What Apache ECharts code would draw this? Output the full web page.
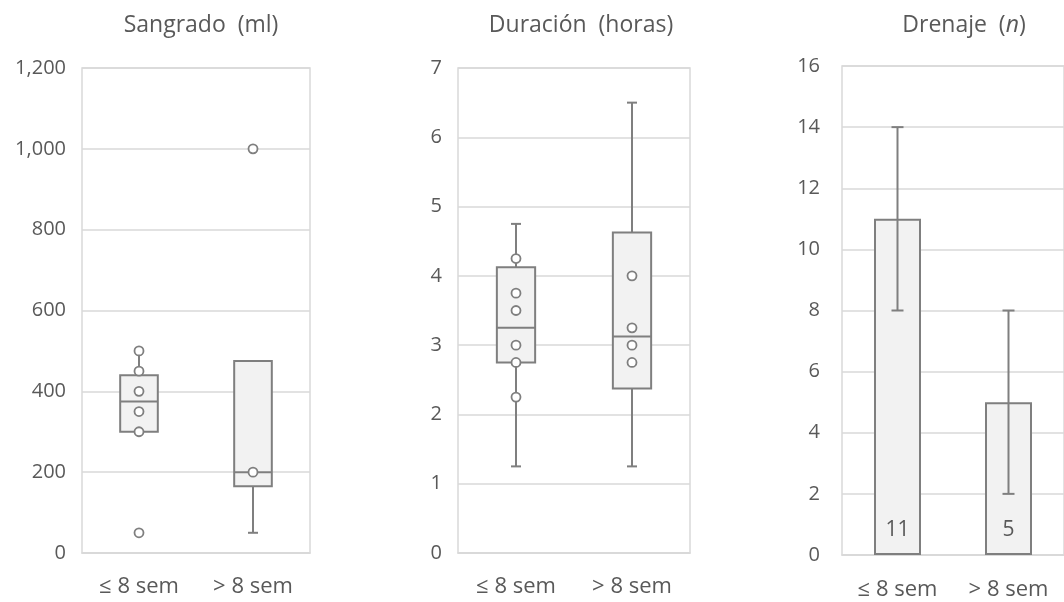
<!DOCTYPE html>
<html>
<head>
<meta charset="utf-8">
<script src="https://cdn.jsdelivr.net/npm/echarts@6/dist/echarts.min.js"></script>
<style>
  html, body { margin: 0; padding: 0; background: #ffffff; }
  #chart { width: 1064px; height: 602px; }
</style>
</head>
<body>
<div id="chart"></div>
<script>
// ---- Data ----
const categories = ['≤ 8 sem', '> 8 sem'];

// Sangrado (ml): [low whisker, Q1, median, Q3, high whisker]
const sangradoBox = [[300, 300, 375, 440, 500], [50, 165, 200, 475, 475]];
const sangradoPoints = [[50, 300, 350, 400, 450, 500], [200, 1000]];
const sangradoTicks = { min: 0, max: 1200, interval: 200 };

// Duración (horas)
const duracionBox = [[1.25, 2.75, 3.25, 4.125, 4.75], [1.25, 2.375, 3.125, 4.625, 6.5]];
const duracionPoints = [[2.25, 2.75, 3, 3.5, 3.75, 4.25], [2.75, 3, 3.25, 4]];
const duracionTicks = { min: 0, max: 7, interval: 1 };

// Drenaje (n)
const drenajeValues = [11, 5];
const drenajeLow = [8, 2];
const drenajeHigh = [14, 8];
const drenajeTicks = { min: 0, max: 16, interval: 2 };

// ---- Styles ----
const TEXT = '#595959';
const GRID = '#d9d9d9';
const STROKE = '#7f7f7f';
const FILL = '#f2f2f2';
const FONT = "'Open Sans', sans-serif";

function boxData(box) {
  return box.map((b, i) => [i].concat(b));
}
function pointData(points) {
  const out = [];
  points.forEach((arr, i) => arr.forEach(v => out.push([i, v])));
  return out;
}

function renderBox(params, api) {
  const cat = api.value(0);
  const lo = api.value(1), q1 = api.value(2), med = api.value(3), q3 = api.value(4), hi = api.value(5);
  const bandW = api.size([1, 0])[0];
  const w = bandW * 0.33;
  const cap = 10;
  const pLo = api.coord([cat, lo]);
  const pQ1 = api.coord([cat, q1]);
  const pMed = api.coord([cat, med]);
  const pQ3 = api.coord([cat, q3]);
  const pHi = api.coord([cat, hi]);
  const x = pQ1[0];
  const ls = { stroke: STROKE, lineWidth: 2, fill: null };
  const children = [];
  if (hi > q3) {
    children.push({ type: 'line', shape: { x1: x, y1: pQ3[1], x2: x, y2: pHi[1] }, style: ls });
    children.push({ type: 'line', shape: { x1: x - cap / 2, y1: pHi[1], x2: x + cap / 2, y2: pHi[1] }, style: ls });
  }
  if (lo < q1) {
    children.push({ type: 'line', shape: { x1: x, y1: pQ1[1], x2: x, y2: pLo[1] }, style: ls });
    children.push({ type: 'line', shape: { x1: x - cap / 2, y1: pLo[1], x2: x + cap / 2, y2: pLo[1] }, style: ls });
  }
  children.push({ type: 'rect', shape: { x: x - w / 2, y: pQ3[1], width: w, height: pQ1[1] - pQ3[1] },
                  style: { fill: FILL, stroke: STROKE, lineWidth: 2 } });
  children.push({ type: 'line', shape: { x1: x - w / 2, y1: pMed[1], x2: x + w / 2, y2: pMed[1] }, style: ls });
  return { type: 'group', children: children };
}

function renderErr(params, api) {
  const cat = api.value(0);
  const pLo = api.coord([cat, api.value(1)]);
  const pHi = api.coord([cat, api.value(2)]);
  const x = pLo[0];
  const cap = 12;
  const ls = { stroke: STROKE, lineWidth: 2, fill: null };
  return { type: 'group', children: [
    { type: 'line', shape: { x1: x, y1: pLo[1], x2: x, y2: pHi[1] }, style: ls },
    { type: 'line', shape: { x1: x - cap / 2, y1: pLo[1], x2: x + cap / 2, y2: pLo[1] }, style: ls },
    { type: 'line', shape: { x1: x - cap / 2, y1: pHi[1], x2: x + cap / 2, y2: pHi[1] }, style: ls }
  ]};
}

function xAxis(gridIndex, margin) {
  return {
    type: 'category', gridIndex: gridIndex, data: categories,
    axisLine: { show: true, lineStyle: { color: GRID, width: 1.5 } },
    axisTick: { show: false },
    axisLabel: { color: TEXT, fontSize: 22, fontFamily: FONT, margin: margin },
    splitLine: { show: false }
  };
}
function yAxis(gridIndex, ticks, margin, fmt) {
  return {
    type: 'value', gridIndex: gridIndex, min: ticks.min, max: ticks.max, interval: ticks.interval,
    axisLine: { show: false }, axisTick: { show: false },
    axisLabel: { color: TEXT, fontSize: 20, fontFamily: FONT, margin: margin,
                 formatter: fmt || (v => String(v)) },
    splitLine: { show: true, lineStyle: { color: GRID, width: 1.5 } }
  };
}

const chart = echarts.init(document.getElementById('chart'), null, { renderer: 'canvas' });
const titleStyle = { color: TEXT, fontSize: 23, fontFamily: FONT, fontWeight: 'normal' };

chart.setOption({
  backgroundColor: '#ffffff',
  animation: false,
  title: [
    { text: 'Sangrado  (ml)', left: 196, top: 9, textAlign: 'center', textStyle: titleStyle },
    { text: 'Duración  (horas)', left: 576, top: 9, textAlign: 'center', textStyle: titleStyle },
    { text: 'Drenaje  ({i|n})', left: 959, top: 9, textAlign: 'center',
      textStyle: Object.assign({}, titleStyle, { rich: { i: { fontStyle: 'italic', color: TEXT, fontSize: 23, fontFamily: FONT } } }) }
  ],
  grid: [
    { left: 82, top: 68, width: 228, height: 485, show: true, borderColor: GRID, borderWidth: 1.5, backgroundColor: 'transparent' },
    { left: 458, top: 68, width: 232, height: 485, show: true, borderColor: GRID, borderWidth: 1.5, backgroundColor: 'transparent' },
    { left: 842, top: 66, width: 234, height: 489, show: true, borderColor: GRID, borderWidth: 1.5, backgroundColor: 'transparent' }
  ],
  xAxis: [xAxis(0, 23), xAxis(1, 23), xAxis(2, 24)],
  yAxis: [
    yAxis(0, sangradoTicks, 16, v => v.toLocaleString('en-US')),
    yAxis(1, duracionTicks, 16),
    yAxis(2, drenajeTicks, 22)
  ],
  series: [
    { type: 'custom', xAxisIndex: 0, yAxisIndex: 0, renderItem: renderBox, data: boxData(sangradoBox), z: 2 },
    { type: 'scatter', xAxisIndex: 0, yAxisIndex: 0, data: pointData(sangradoPoints), symbol: 'circle', symbolSize: 9,
      itemStyle: { color: '#ffffff', borderColor: STROKE, borderWidth: 1.8, opacity: 1 }, z: 5 },
    { type: 'custom', xAxisIndex: 1, yAxisIndex: 1, renderItem: renderBox, data: boxData(duracionBox), z: 2 },
    { type: 'scatter', xAxisIndex: 1, yAxisIndex: 1, data: pointData(duracionPoints), symbol: 'circle', symbolSize: 9,
      itemStyle: { color: '#ffffff', borderColor: STROKE, borderWidth: 1.8, opacity: 1 }, z: 5 },
    { type: 'bar', xAxisIndex: 2, yAxisIndex: 2, data: drenajeValues, barWidth: 47,
      itemStyle: { color: FILL, borderColor: STROKE, borderWidth: 2 },
      label: { show: true, position: 'insideBottom', distance: 14, color: TEXT, fontSize: 21, fontFamily: FONT }, z: 2 },
    { type: 'custom', xAxisIndex: 2, yAxisIndex: 2, renderItem: renderErr,
      data: drenajeValues.map((v, i) => [i, drenajeLow[i], drenajeHigh[i]]), z: 4 }
  ]
});
</script>
</body>
</html>
